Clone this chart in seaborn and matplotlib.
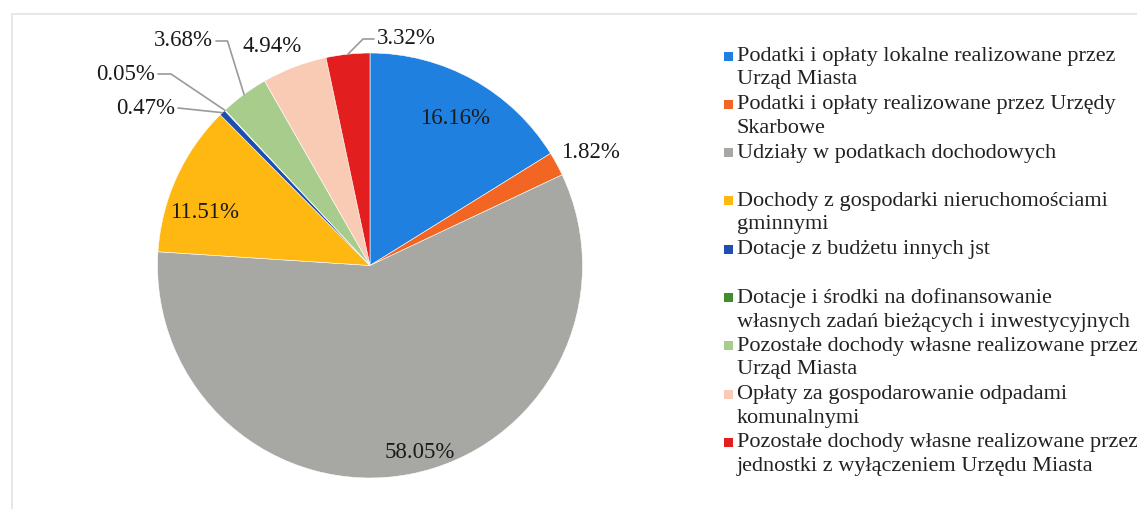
import matplotlib
matplotlib.use("Agg")
import numpy as np
import matplotlib.pyplot as plt
import seaborn as sns
from matplotlib.patches import Rectangle

sns.set_theme(style="white")
plt.rcParams["font.family"] = ["Liberation Serif", "DejaVu Serif"]

# data
categories = [
    "Podatki i opłaty lokalne realizowane przez\nUrząd Miasta",
    "Podatki i opłaty realizowane przez Urzędy\nSkarbowe",
    "Udziały w podatkach dochodowych",
    "Dochody z gospodarki nieruchomościami\ngminnymi",
    "Dotacje z budżetu innych jst",
    "Dotacje i środki na dofinansowanie\nwłasnych zadań bieżących i inwestycyjnych",
    "Pozostałe dochody własne realizowane przez\nUrząd Miasta",
    "Opłaty za gospodarowanie odpadami\nkomunalnymi",
    "Pozostałe dochody własne realizowane przez\njednostki z wyłączeniem Urzędu Miasta",
]
shares = [16.16, 1.82, 58.05, 11.51, 0.47, 0.05, 3.68, 4.94, 3.32]
colors = ["#1F80E0", "#F26522", "#A7A7A3", "#FFB812", "#1D4FB0",
          "#3E8E2E", "#A8CC8C", "#F9CBB4", "#E31E1E"]

# label layout in pixel coords of the figure (x, y from top);
# leader labels: anchor is the text edge next to the line, arm length in points
label_pos = [
    (455, 118, None),
    (590, 152, None),
    (420, 452, None),
    (205, 212, None),
    (175, 108, 0),
    (155, 74, 13),
    (213, 41, 11.5),
    (272, 47, None),
    (377, 39, 11),
]

W, H = 1137, 509
fig = plt.figure(figsize=(W / 100, H / 100), dpi=100)

# faint chart frame
fig.patches.append(Rectangle((12 / W, -0.1), 2, (H - 14) / H + 0.1,
                             transform=fig.transFigure, fill=False,
                             edgecolor="#E3E3E3", linewidth=1.2))

ax = fig.add_axes([157 / W, 31 / H, 426 / W, 425 / H])
wedges, _ = ax.pie(shares, colors=colors, startangle=90, counterclock=False,
                   radius=1, wedgeprops=dict(edgecolor="white", linewidth=0.4))
ax.set_xlim(-1, 1)
ax.set_ylim(-1, 1)
ax.set_aspect("equal", adjustable="box")
ax.axis("off")

pct_kw = dict(fontsize=16.5, color="#1A1A1A")
for w, v, (lx, ly, arm) in zip(wedges, shares, label_pos):
    txt = f"{v:.2f}%"
    fx, fy = lx / W, 1 - ly / H
    if arm is None:
        fig.text(fx, fy, txt, ha="center", va="center", **pct_kw)
        continue
    mid = np.deg2rad((w.theta1 + w.theta2) / 2)
    tip = (np.cos(mid), np.sin(mid))
    left_side = tip[0] * 213 + 370 > lx
    gap = 3 / W
    start = (fx + gap, fy) if left_side else (fx - gap, fy)
    ax.annotate("", xy=tip, xytext=start, textcoords="figure fraction",
                annotation_clip=False,
                arrowprops=dict(arrowstyle="-", color="#9A9A9A", lw=1.2,
                                shrinkA=0, shrinkB=0,
                                connectionstyle="arc,angleA=%d,armA=%g,angleB=0,armB=0,rad=0"
                                % (0 if left_side else 180, arm)))
    fig.text(fx, fy, txt, ha="right" if left_side else "left", va="center", **pct_kw)

# legend: square aligned to the first line of each label
x_sq, x_txt = 728 / W, 737 / W
y0, step = 56, 48.3
for i, (c, lab) in enumerate(zip(colors, categories)):
    yc = 1 - (y0 + i * step) / H
    fig.patches.append(Rectangle((x_sq - 4.5 / W, yc - 4.5 / H), 9 / W, 9 / H,
                                 transform=fig.transFigure, facecolor=c,
                                 edgecolor="none"))
    fig.text(x_txt, yc + 9 / H, lab, ha="left", va="top", fontsize=16,
             color="#222222", linespacing=1.32)

fig.savefig("out.png", dpi=100, facecolor="white")
